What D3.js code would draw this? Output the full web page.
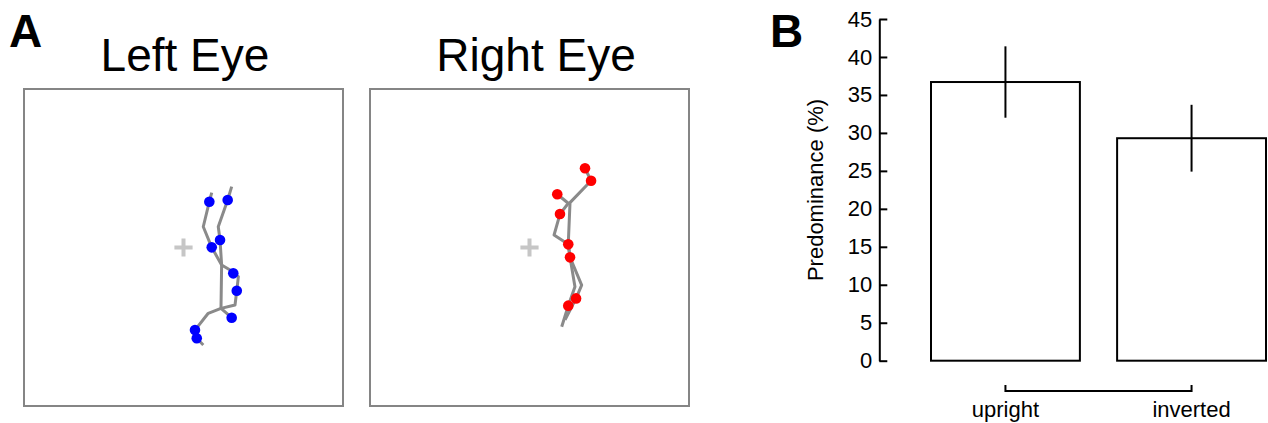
<!DOCTYPE html>
<html>
<head>
<meta charset="utf-8">
<script src="https://cdn.jsdelivr.net/npm/d3@7"></script>
<style>
  html, body { margin: 0; padding: 0; background: #fff; }
  svg { display: block; }
</style>
</head>
<body>
<svg id="fig" width="1268" height="423"></svg>
<script>
// ---- Panel A: gaze traces, in degrees from the fixation cross (x right, y up) ----
const eyeTitles = ["Left Eye", "Right Eye"];

const leftPathA = [[1.77, 3.46], [1.62, 2.89], [1.24, 1.31], [1.77, 0.01], [2.39, -1.10],
  [2.92, -1.42], [3.44, -1.84], [3.34, -2.73], [3.23, -3.63], [2.35, -3.84],
  [1.55, -4.15], [0.72, -5.21], [0.83, -5.73], [1.24, -6.15]];
const leftPathB = [[3.02, 3.84], [2.77, 3.00], [2.18, 1.31], [2.29, 0.47], [2.39, -1.10],
  [2.35, -3.84], [3.02, -4.43]];
const leftFixations = [[1.62, 2.89], [2.77, 3.00], [1.77, 0.01], [2.29, 0.47], [3.12, -1.63],
  [3.34, -2.73], [3.02, -4.43], [0.72, -5.21], [0.83, -5.73]];

const rightPathA = [[3.48, 5.00], [3.86, 4.21], [2.54, 2.83], [2.43, 0.20], [2.54, -0.62],
  [3.27, -2.37], [2.92, -3.21], [2.23, -4.57]];
const rightPathB = [[1.74, 3.36], [2.43, 2.79], [1.91, 2.11], [1.54, 0.79], [2.43, 0.20],
  [2.54, -0.62], [2.85, -2.47], [2.43, -3.67], [2.02, -5.00]];
const rightFixations = [[3.48, 5.00], [3.86, 4.21], [1.74, 3.36], [1.91, 2.11], [2.43, 0.20],
  [2.54, -0.62], [2.92, -3.21], [2.43, -3.67]];

// ---- Panel B: predominance by face orientation ----
const conditions = ["upright", "inverted"];
const predominance = [36.7, 29.3];
const predominanceErr = [4.7, 4.4];
const yTicks = [0, 5, 10, 15, 20, 25, 30, 35, 40, 45];

const svg = d3.select("#fig");
svg.append("rect").attr("width", 1268).attr("height", 423).attr("fill", "#fff");

const sans = "'Liberation Sans', Arial, Helvetica, sans-serif";

// Panel letters
svg.append("text").attr("x", 9).attr("y", 47).text("A")
  .attr("font-family", sans).attr("font-weight", 700).attr("font-size", 46).attr("fill", "#000");
svg.append("text").attr("x", 770).attr("y", 47).text("B")
  .attr("font-family", sans).attr("font-weight", 700).attr("font-size", 46).attr("fill", "#000");

// ---- Panel A drawing ----
const eyePanels = [
  { title: eyeTitles[0], x0: 24, x1: 343, titleX: 185, paths: [leftPathA, leftPathB],
    fix: leftFixations, color: "#0000ff" },
  { title: eyeTitles[1], x0: 370, x1: 689, titleX: 536, paths: [rightPathA, rightPathB],
    fix: rightFixations, color: "#ff0000" }
];
const gazeDomain = [-10, 10];

eyePanels.forEach(p => {
  const x = d3.scaleLinear().domain(gazeDomain).range([p.x0, p.x1]);
  const y = d3.scaleLinear().domain(gazeDomain).range([406, 89]);
  const g = svg.append("g");

  g.append("text").attr("x", p.titleX).attr("y", 71).attr("text-anchor", "middle")
    .attr("font-family", sans).attr("font-size", 46).attr("fill", "#000").text(p.title);

  g.append("rect")
    .attr("x", x(gazeDomain[0])).attr("y", y(gazeDomain[1]))
    .attr("width", x(gazeDomain[1]) - x(gazeDomain[0]))
    .attr("height", y(gazeDomain[0]) - y(gazeDomain[1]))
    .attr("fill", "#fff").attr("stroke", "#858585").attr("stroke-width", 2);

  // fixation cross
  const c = 0.57;
  g.append("path")
    .attr("d", `M${x(-c)},${y(0)}H${x(c)}M${x(0)},${y(-c)}V${y(c)}`)
    .attr("stroke", "#c6c6c6").attr("stroke-width", 4).attr("fill", "none");

  const line = d3.line().x(d => x(d[0])).y(d => y(d[1]));
  g.selectAll("path.trace").data(p.paths).join("path")
    .attr("class", "trace")
    .attr("d", line)
    .attr("fill", "none").attr("stroke", "#8a8a8a").attr("stroke-width", 3)
    .attr("stroke-linejoin", "round");

  g.selectAll("circle").data(p.fix).join("circle")
    .attr("cx", d => x(d[0])).attr("cy", d => y(d[1])).attr("r", 5.3)
    .attr("fill", p.color);
});

// ---- Panel B drawing ----
const yB = d3.scaleLinear().domain([0, 45]).range([360.7, 19]);
const xB = d3.scaleBand().domain(conditions).range([931, 1266]).paddingInner(0.2).paddingOuter(0);

const axis = svg.append("g").attr("transform", "translate(879.3,0)")
  .call(d3.axisLeft(yB).tickValues(yTicks).tickSizeInner(-8).tickSizeOuter(0).tickPadding(7));
axis.select(".domain").attr("stroke", "#000").attr("stroke-width", 2);
axis.selectAll(".tick line").attr("stroke", "#000").attr("stroke-width", 2);
axis.selectAll(".tick text").attr("font-family", sans).attr("font-size", 22).attr("fill", "#000");

svg.append("text")
  .attr("transform", "translate(823,190) rotate(-90)")
  .attr("text-anchor", "middle")
  .attr("font-family", sans).attr("font-size", 22).attr("fill", "#000")
  .text("Predominance (%)");

svg.selectAll("rect.bar").data(conditions).join("rect")
  .attr("class", "bar")
  .attr("x", d => xB(d)).attr("width", xB.bandwidth())
  .attr("y", (d, i) => yB(predominance[i]))
  .attr("height", (d, i) => yB(0) - yB(predominance[i]))
  .attr("fill", "#fff").attr("stroke", "#000").attr("stroke-width", 2);

svg.selectAll("line.err").data(conditions).join("line")
  .attr("class", "err")
  .attr("x1", d => xB(d) + xB.bandwidth() / 2).attr("x2", d => xB(d) + xB.bandwidth() / 2)
  .attr("y1", (d, i) => yB(predominance[i] + predominanceErr[i]))
  .attr("y2", (d, i) => yB(predominance[i] - predominanceErr[i]))
  .attr("stroke", "#000").attr("stroke-width", 2);

// bracket joining the two conditions
const cx0 = xB(conditions[0]) + xB.bandwidth() / 2;
const cx1 = xB(conditions[1]) + xB.bandwidth() / 2;
svg.append("path")
  .attr("d", `M${cx0},385V391H${cx1}V385`)
  .attr("fill", "none").attr("stroke", "#000").attr("stroke-width", 2);

svg.selectAll("text.cat").data(conditions).join("text")
  .attr("class", "cat")
  .attr("x", d => xB(d) + xB.bandwidth() / 2).attr("y", 417)
  .attr("text-anchor", "middle")
  .attr("font-family", sans).attr("font-size", 22).attr("fill", "#000")
  .text(d => d);
</script>
</body>
</html>
